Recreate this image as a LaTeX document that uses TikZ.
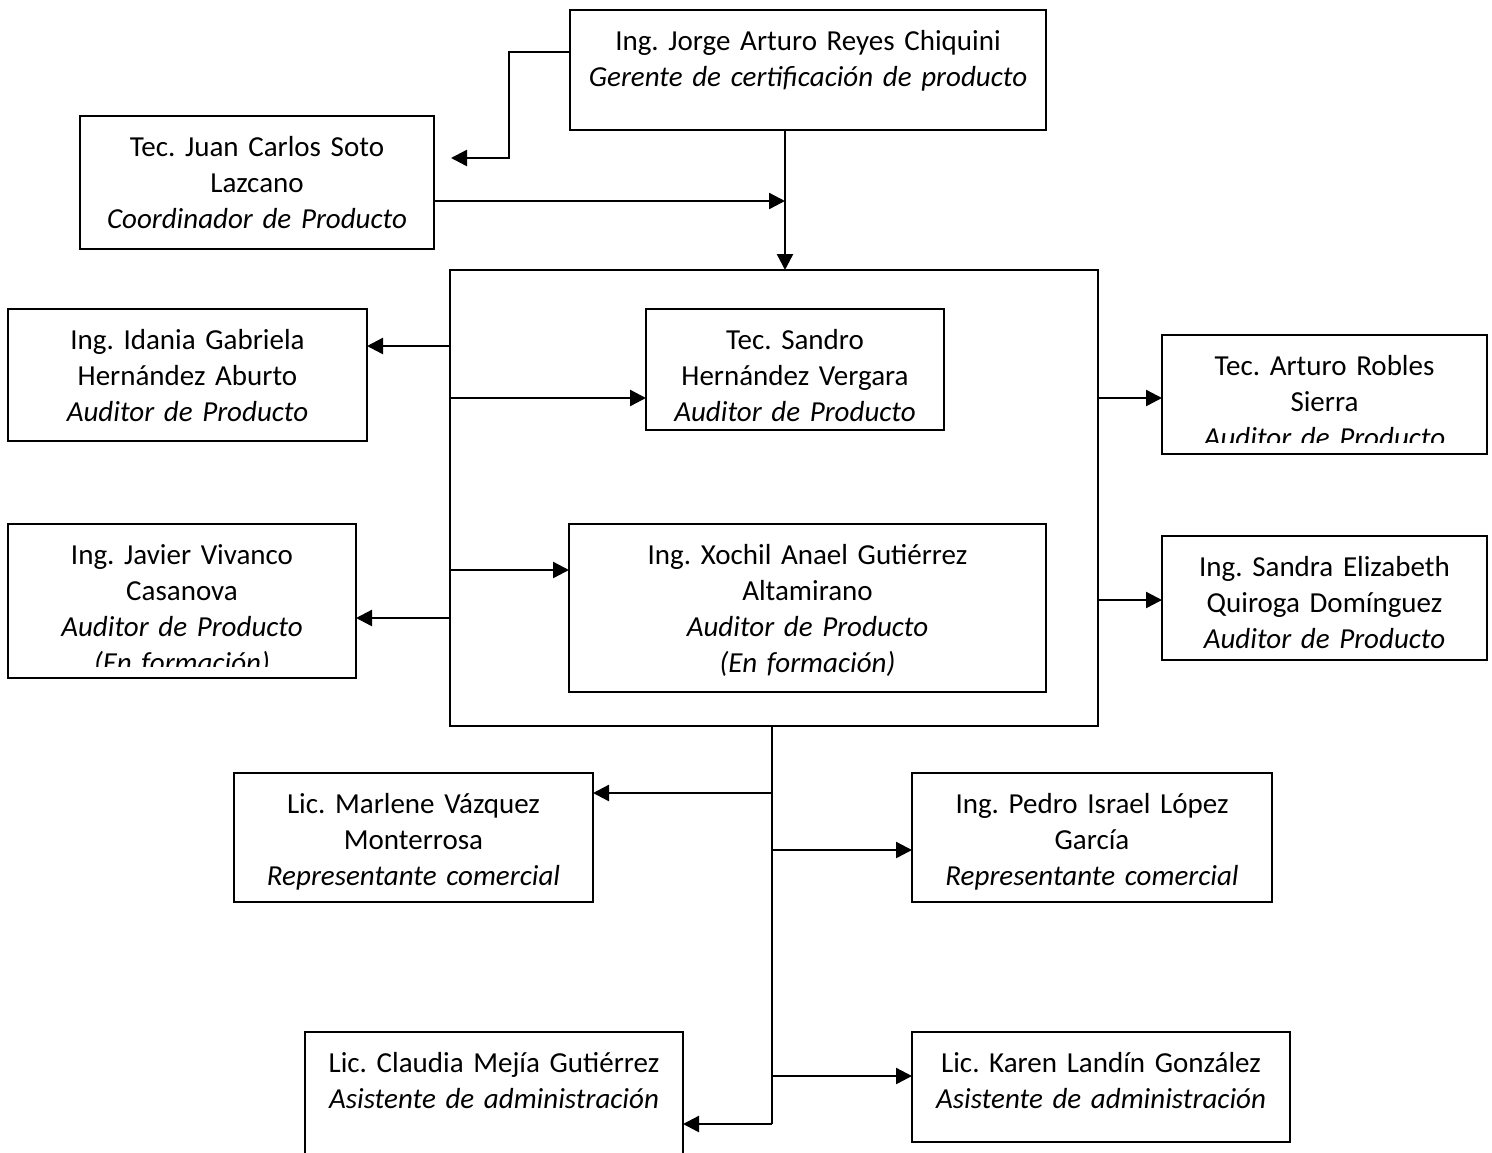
\documentclass[tikz,border=0pt]{standalone}
\usepackage{fontspec}
\setmainfont{Carlito}
\usetikzlibrary{arrows.meta}
\newcommand{\Texto}{\fontsize{29}{36}\selectfont\frenchspacing}
\tikzset{
  cargo/.style={draw, line width=2pt, anchor=north west, inner xsep=5pt, inner ysep=0pt,
                outer sep=0pt, align=center, text height=40pt, font=\Texto},
  marco/.style={draw, line width=2pt, anchor=north west, inner sep=0pt, outer sep=0pt},
  flecha/.style={line width=2.4pt, -{Triangle[length=16pt,width=16pt]}},
  linea/.style={line width=2.4pt}
}

\begin{document}
\begin{tikzpicture}[x=1pt,y=-1pt]
  \clip (0,0) rectangle (1492,1152);
  % cajas
  \node[cargo, text width=466pt, text depth=80pt] (jorge) at (570,10)
    {Ing. Jorge Arturo Reyes Chiquini\\ \textit{Gerente de certificación de producto}};
  \node[cargo, text width=344pt, text depth=93pt] (juan) at (80,116)
    {Tec. Juan Carlos Soto\\ Lazcano\\ \textit{Coordinador de Producto}};
  \node[marco, minimum width=648pt, minimum height=456pt] (grupo) at (450,270) {};
  \node[cargo, text width=349pt, text depth=92pt] (idania) at (8,309)
    {Ing. Idania Gabriela\\ Hernández Aburto\\ \textit{Auditor de Producto}};
  \node[cargo, text width=288pt, text depth=81pt] (sandro) at (646,309)
    {Tec. Sandro\\ Hernández Vergara\\ \textit{Auditor de Producto}};
  \node[cargo, text width=315pt, text depth=79pt] (arturo) at (1162,335)
    {Tec. Arturo Robles\\ Sierra\\ \textit{Auditor de Producto}};
  \node[cargo, text width=338pt, text depth=114pt] (javier) at (8,524)
    {Ing. Javier Vivanco\\ Casanova\\ \textit{Auditor de Producto}\\ \textit{(En formación)}};
  \node[cargo, text width=467pt, text depth=128pt] (xochil) at (569,524)
    {Ing. Xochil Anael Gutiérrez\\ Altamirano\\ \textit{Auditor de Producto}\\ \textit{(En formación)}};
  \node[cargo, text width=315pt, text depth=84pt] (sandra) at (1162,536)
    {Ing. Sandra Elizabeth\\ Quiroga Domínguez\\ \textit{Auditor de Producto}};
  \node[cargo, text width=349pt, text depth=89pt] (marlene) at (234,773)
    {Lic. Marlene Vázquez\\ Monterrosa\\ \textit{Representante comercial}};
  \node[cargo, text width=350pt, text depth=89pt] (pedro) at (912,773)
    {Ing. Pedro Israel López\\ García\\ \textit{Representante comercial}};
  \node[cargo, text width=368pt, text depth=100pt] (claudia) at (305,1032)
    {Lic. Claudia Mejía Gutiérrez\\ \textit{Asistente de administración}};
  \node[cargo, text width=368pt, text depth=70pt] (karen) at (912,1032)
    {Lic. Karen Landín González\\ \textit{Asistente de administración}};
  % texto cortado al borde
  \fill[white] (9.5,667) rectangle (354.5,676.8);
  \fill[white] (1163.5,443) rectangle (1485.5,452.8);

  % conectores
  \coordinate (eje) at (785,0);
  \coordinate (juanpunta) at (451,158);
  \coordinate (tronco) at (772,1124);
  \draw[flecha] (jorge.west |- 0,52) -| (509,158) -- (juanpunta);
  \draw[flecha] (jorge.south -| eje) -- (grupo.north -| eje);
  \draw[flecha] (juan.east |- 0,201) -- (eje |- 0,201);
  \foreach \yy/\dst in {346/idania, 618/javier}
    \draw[flecha] (grupo.west |- 0,\yy) -- (\dst.east |- 0,\yy);
  \foreach \yy/\dst in {398/sandro, 570/xochil}
    \draw[flecha] (grupo.west |- 0,\yy) -- (\dst.west |- 0,\yy);
  \foreach \yy/\dst in {398/arturo, 600/sandra}
    \draw[flecha] (grupo.east |- 0,\yy) -- (\dst.west |- 0,\yy);
  \draw[linea] (grupo.south -| tronco) -- (tronco);
  \foreach \yy/\dst in {793/marlene, 1124/claudia}
    \draw[flecha] (tronco |- 0,\yy) -- (\dst.east |- 0,\yy);
  \foreach \yy/\dst in {850/pedro, 1076/karen}
    \draw[flecha] (tronco |- 0,\yy) -- (\dst.west |- 0,\yy);
\end{tikzpicture}
\end{document}
